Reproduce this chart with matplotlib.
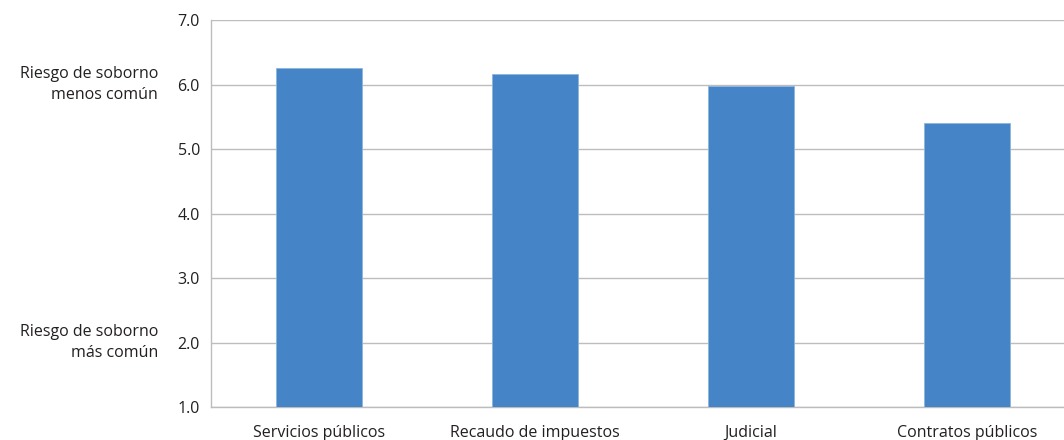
import matplotlib.pyplot as plt
import numpy as np

plt.rcParams['font.family'] = ['Open Sans', 'DejaVu Sans']

categorias = ['Servicios públicos', 'Recaudo de impuestos', 'Judicial', 'Contratos públicos']
valores = [6.25, 6.16, 5.98, 5.40]
yticks = [1.0, 2.0, 3.0, 4.0, 5.0, 6.0, 7.0]

W, H = 1064, 440
fig = plt.figure(figsize=(W / 100, H / 100), dpi=100)
# axes runs past the right edge of the picture, like the original
ax = fig.add_axes([211 / W, (H - 407) / H, 864 / W, 387 / H])

x = np.arange(len(categorias))
ax.bar(x, np.array(valores) - 1.0, bottom=1.0, width=0.4, color='#4584c6',
       edgecolor='#8fb4de', linewidth=0.6, zorder=3)

fs = 11.5
ax.set_xlim(-0.5, 3.5)
ax.set_ylim(1.0, 7.0)
ax.set_yticks(yticks)
ax.set_yticklabels(['%.1f' % v for v in yticks], fontsize=fs, color='#231f20')
ax.set_xticks(x)
ax.set_xticklabels(categorias, fontsize=fs, color='#231f20')
ax.tick_params(axis='both', length=0)
ax.tick_params(axis='y', pad=8)
ax.tick_params(axis='x', pad=13)
ax.yaxis.grid(True, color='#bdbdbd', linewidth=1.0, zorder=0)

for s in ['top', 'right']:
    ax.spines[s].set_visible(False)
for s in ['left', 'bottom']:
    ax.spines[s].set_color('#bdbdbd')
    ax.spines[s].set_linewidth(1.0)

ax.text(-53 / 864, 6.0, 'Riesgo de soborno\nmenos común', transform=ax.get_yaxis_transform(),
        ha='right', va='center', multialignment='right', fontsize=fs, color='#231f20',
        linespacing=1.45)
ax.text(-53 / 864, 2.0, 'Riesgo de soborno\nmás común', transform=ax.get_yaxis_transform(),
        ha='right', va='center', multialignment='right', fontsize=fs, color='#231f20',
        linespacing=1.45)

fig.savefig('out.png', dpi=100)
